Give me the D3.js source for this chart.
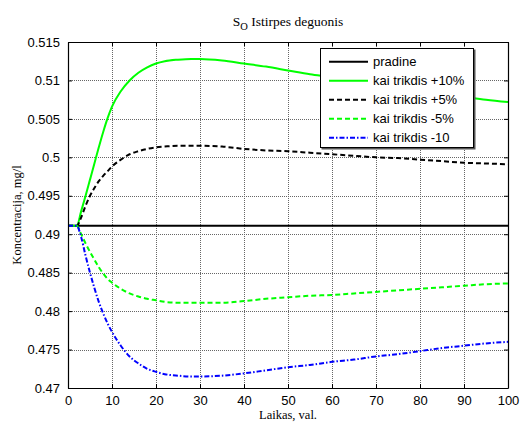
<!DOCTYPE html>
<html>
<head>
<meta charset="utf-8">
<script src="https://cdn.jsdelivr.net/npm/d3@7"></script>
<style>
  html, body { margin: 0; padding: 0; background: #fff; }
  svg { display: block; }
</style>
</head>
<body>
<svg id="chart" width="521" height="423"></svg>
<script>
// Time axis (hours) shared by all series
const hours = [0, 2, 3, 4, 5, 6, 7, 8, 9, 10, 12, 14, 16, 18, 20, 22, 25, 28, 30, 35, 40, 45, 50, 55, 60, 65, 70, 75, 80, 85, 90, 95, 100];

// Dissolved oxygen concentration, mg/l
const pradine = hours.map(() => 0.4911);
const plus10 = [0.4911, 0.4911, 0.4930, 0.4950, 0.4971, 0.4992, 0.5013, 0.5033, 0.5051, 0.5066, 0.5086, 0.5100, 0.5110, 0.5117, 0.5122, 0.5125, 0.5127, 0.5128, 0.5128, 0.5126, 0.5122, 0.5118, 0.5113, 0.5108, 0.5104, 0.5099, 0.5095, 0.5091, 0.5087, 0.5083, 0.5079, 0.5075, 0.5072];
const plus5  = [0.4911, 0.4911, 0.4922, 0.4937, 0.4950, 0.4960, 0.4969, 0.4976, 0.4982, 0.4988, 0.4997, 0.5004, 0.5008, 0.5011, 0.5013, 0.5014, 0.5015, 0.5015, 0.5015, 0.5014, 0.5011, 0.5009, 0.5008, 0.5006, 0.5004, 0.5002, 0.5000, 0.4999, 0.4997, 0.4995, 0.4993, 0.4992, 0.4991];
const minus5 = [0.4911, 0.4911, 0.4900, 0.4888, 0.4877, 0.4867, 0.4857, 0.4849, 0.4842, 0.4837, 0.4829, 0.4823, 0.4819, 0.4816, 0.4814, 0.4812, 0.4811, 0.4811, 0.4811, 0.4811, 0.4813, 0.4816, 0.4818, 0.4820, 0.4821, 0.4823, 0.4825, 0.4827, 0.4829, 0.4831, 0.4833, 0.4835, 0.4836];
const minus10 = [0.4911, 0.4911, 0.4896, 0.4872, 0.4850, 0.4830, 0.4812, 0.4797, 0.4784, 0.4773, 0.4755, 0.4741, 0.4732, 0.4725, 0.4721, 0.4718, 0.4716, 0.4715, 0.4715, 0.4716, 0.4719, 0.4723, 0.4727, 0.4730, 0.4734, 0.4737, 0.4741, 0.4744, 0.4748, 0.4752, 0.4755, 0.4758, 0.4760];

const seriesNames = ["pradine", "kai trikdis +10%", "kai trikdis +5%", "kai trikdis -5%", "kai trikdis -10"];
const xTicks = [0, 10, 20, 30, 40, 50, 60, 70, 80, 90, 100];
const yTicks = [0.47, 0.475, 0.48, 0.485, 0.49, 0.495, 0.5, 0.505, 0.51, 0.515];
const yTickLabels = ["0.47", "0.475", "0.48", "0.485", "0.49", "0.495", "0.5", "0.505", "0.51", "0.515"];

const styles = [
  { color: "#000000", dash: null },
  { color: "#00ff00", dash: null },
  { color: "#000000", dash: "5,3" },
  { color: "#00ff00", dash: "5,3" },
  { color: "#0000ff", dash: "5,2,1.5,2" }
];
const seriesValues = [pradine, plus10, plus5, minus5, minus10];

const svg = d3.select("#chart");
const margin = { left: 68, top: 42, right: 13, bottom: 35 };
const W = 521 - margin.left - margin.right;
const H = 423 - margin.top - margin.bottom;

const x = d3.scaleLinear().domain([0, 100]).range([0, W]);
const y = d3.scaleLinear().domain([0.47, 0.515]).range([H, 0]);

const g = svg.append("g").attr("transform", `translate(${margin.left},${margin.top})`);

// grid
g.append("g").selectAll("line").data(xTicks.slice(1, -1)).join("line")
  .attr("x1", d => x(d) + 0.5).attr("x2", d => x(d) + 0.5)
  .attr("y1", 0).attr("y2", H)
  .attr("stroke", "#666").attr("stroke-width", 1).attr("stroke-dasharray", "1,1");
g.append("g").selectAll("line").data(yTicks.slice(1, -1)).join("line")
  .attr("y1", d => Math.round(y(d)) + 0.5).attr("y2", d => Math.round(y(d)) + 0.5)
  .attr("x1", 0).attr("x2", W)
  .attr("stroke", "#666").attr("stroke-width", 1).attr("stroke-dasharray", "1,1");

// series
const line = d3.line()
  .x((d, i) => x(hours[i]))
  .y(d => y(d))
  .curve(d3.curveMonotoneX);

seriesValues.forEach((vals, i) => {
  g.append("path")
    .datum(vals)
    .attr("d", line)
    .attr("fill", "none")
    .attr("stroke", styles[i].color)
    .attr("stroke-width", 2)
    .attr("stroke-dasharray", styles[i].dash);
});

// axes (ticks point inward, mirrored on top and right)
const fontSans = "Liberation Sans, Arial, sans-serif";
const xAxis = d3.axisBottom(x).tickValues(xTicks).tickSizeInner(-4).tickSizeOuter(0).tickPadding(8);
const yAxis = d3.axisLeft(y).tickValues(yTicks).tickFormat((d, i) => yTickLabels[i]).tickSizeInner(-4).tickSizeOuter(0).tickPadding(8);
const xTop = d3.axisTop(x).tickValues(xTicks).tickSizeInner(-4).tickSizeOuter(0).tickFormat("");
const yRight = d3.axisRight(y).tickValues(yTicks).tickSizeInner(-4).tickSizeOuter(0).tickFormat("");

function styleAxis(sel) {
  sel.selectAll("path").attr("stroke", "#000").attr("stroke-width", 1.2);
  sel.selectAll("line").attr("stroke", "#000");
  sel.selectAll("text").attr("font-family", fontSans).attr("font-size", 13).attr("fill", "#000");
}
g.append("g").attr("transform", `translate(0,${H})`).call(xAxis).call(styleAxis);
g.append("g").call(yAxis).call(styleAxis);
g.append("g").call(xTop).call(styleAxis);
g.append("g").attr("transform", `translate(${W},0)`).call(yRight).call(styleAxis);

// legend
const lg = svg.append("g").attr("transform", "translate(320,48)");
lg.append("rect").attr("x", 1.5).attr("y", 1.5).attr("width", 154).attr("height", 100)
  .attr("fill", "#555");
lg.append("rect").attr("x", 0.5).attr("y", 0.5).attr("width", 153).attr("height", 99)
  .attr("fill", "#fff").attr("stroke", "#000").attr("stroke-width", 1);
seriesNames.forEach((name, i) => {
  const cy = 13.7 + i * 19;
  lg.append("line").attr("x1", 9).attr("x2", 48).attr("y1", cy).attr("y2", cy)
    .attr("stroke", styles[i].color).attr("stroke-width", 2)
    .attr("stroke-dasharray", styles[i].dash);
  lg.append("text").attr("x", 53).attr("y", cy + 4.6)
    .attr("font-family", fontSans).attr("font-size", 13).attr("fill", "#000")
    .text(name);
});

// title and axis labels
const fontSerif = "Liberation Serif, Times New Roman, serif";
const title = svg.append("text").attr("x", margin.left + W / 2).attr("y", 26)
  .attr("text-anchor", "middle").attr("font-family", fontSerif).attr("font-size", 13.5).attr("fill", "#000");
title.append("tspan").text("S");
title.append("tspan").attr("dy", 4).attr("font-size", 10.5).text("O");
title.append("tspan").attr("dy", -4).text(" Istirpes deguonis");

svg.append("text").attr("x", margin.left + W / 2).attr("y", 419)
  .attr("text-anchor", "middle").attr("font-family", fontSerif).attr("font-size", 12.5).attr("fill", "#000")
  .text("Laikas, val.");

svg.append("text")
  .attr("transform", `translate(21,${margin.top + H / 2}) rotate(-90)`)
  .attr("text-anchor", "middle").attr("font-family", fontSerif).attr("font-size", 12.5).attr("fill", "#000")
  .text("Koncentracija, mg/l");
</script>
</body>
</html>
